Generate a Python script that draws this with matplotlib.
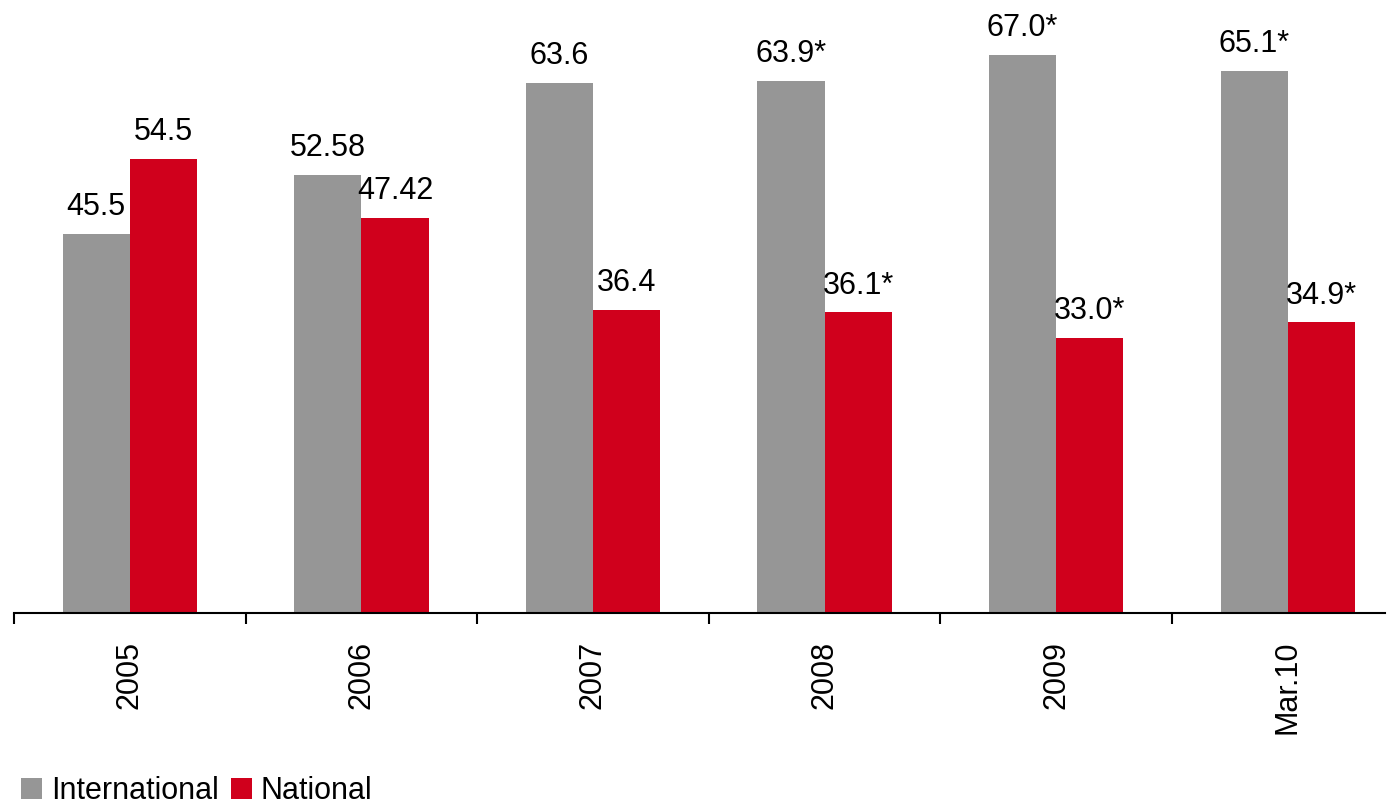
import matplotlib.pyplot as plt
import numpy as np

plt.rcParams['font.family'] = ['Liberation Sans', 'DejaVu Sans']

years = ["2005", "2006", "2007", "2008", "2009", "Mar.10"]
international = [45.5, 52.58, 63.6, 63.9, 67.0, 65.1]
national = [54.5, 47.42, 36.4, 36.1, 33.0, 34.9]
intl_labels = ["45.5", "52.58", "63.6", "63.9*", "67.0*", "65.1*"]
nat_labels = ["54.5", "47.42", "36.4", "36.1*", "33.0*", "34.9*"]

gray = "#969696"
red = "#D0001C"
fs = 22

fig = plt.figure(figsize=(13.87, 8.09), dpi=100)
ax = fig.add_axes([14 / 1387, 196 / 809, 1371 / 1387, 613 / 809])

x = np.arange(len(years))
w = 0.29
b1 = ax.bar(x - w / 2, international, w, color=gray, label="International")
b2 = ax.bar(x + w / 2, national, w, color=red, label="National")

for bars, labels in [(b1, intl_labels), (b2, nat_labels)]:
    for bar, lab in zip(bars, labels):
        ax.annotate(lab, (bar.get_x() + bar.get_width() / 2, bar.get_height()),
                    xytext=(0, 13.5), textcoords="offset points",
                    ha="center", va="baseline", fontsize=fs)

ax.set_xlim(-0.5, -0.5 + 1371 / 231.6)
ax.set_ylim(0, 613 / 8.33)

for s in ["left", "right", "top"]:
    ax.spines[s].set_visible(False)
ax.spines["bottom"].set_linewidth(1.5)
ax.set_yticks([])

ax.set_xticks(np.arange(len(years)) - 0.5)
ax.set_xticklabels([])
ax.tick_params(axis="x", which="major", length=8, width=1.5, direction="out")
ax.set_xticks(x, minor=True)
ax.set_xticklabels(years, minor=True, rotation=90, fontsize=fs)
ax.tick_params(axis="x", which="minor", length=0, pad=20)

fig.legend(handles=[b1, b2], loc="lower left", bbox_to_anchor=(18 / 1387, 0.0),
           ncol=2, frameon=False, fontsize=fs, handlelength=0.68,
           handleheight=0.68, handletextpad=0.3, columnspacing=0.4,
           borderpad=0.1, borderaxespad=0)

fig.savefig("out.png", dpi=100)
